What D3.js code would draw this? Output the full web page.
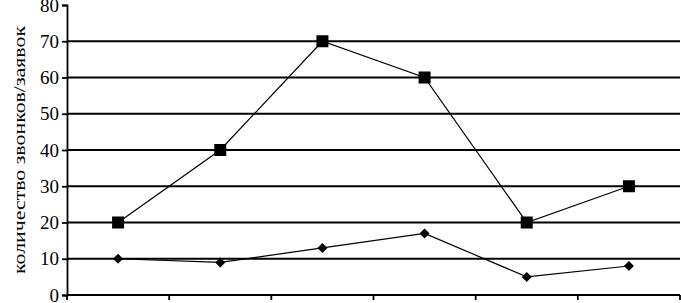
<!DOCTYPE html>
<html>
<head>
<meta charset="utf-8">
<script src="https://cdn.jsdelivr.net/npm/d3@7"></script>
<style>
  body { margin: 0; background: #fff; }
  svg text { font-family: "Liberation Serif", "DejaVu Serif", serif !important; fill: #000; }
</style>
</head>
<body>
<svg id="chart" width="681" height="303"></svg>
<script>
// categories (no labels shown on the x axis)
var categories = ["1", "2", "3", "4", "5", "6"];
var seriesSquares = [20, 40, 70, 60, 20, 30];
var seriesDiamonds = [10, 9, 13, 17, 5, 8];
var yTicks = [0, 10, 20, 30, 40, 50, 60, 70, 80];
var yLabel = "количество звонков/заявок";

var svg = d3.select("#chart");
var margin = {top: 5, right: 1, bottom: 8, left: 67},
  width = 681 - margin.left - margin.right,
  height = 303 - margin.top - margin.bottom;

var g = svg.append("g")
  .attr("transform", "translate(" + margin.left + "," + margin.top + ")");

var xScale = d3.scaleBand().domain(categories).range([0, width]);
var yScale = d3.scaleLinear().domain([0, 80]).range([height, 0]);

// gridlines (not at top)
g.selectAll(".grid")
  .data(yTicks.filter(function(d) { return d > 0 && d < 80; }))
  .enter().append("line")
  .attr("x1", 0).attr("x2", width)
  .attr("y1", function(d) { return yScale(d); })
  .attr("y2", function(d) { return yScale(d); })
  .attr("stroke", "#000").attr("stroke-width", 1.8);

// y axis
var yAxis = d3.axisLeft(yScale).tickValues(yTicks).tickSize(5).tickPadding(3);
var ya = g.append("g").call(yAxis);
ya.select(".domain").attr("stroke", "#000").attr("stroke-width", 1.8);
ya.selectAll(".tick line").attr("stroke", "#000").attr("stroke-width", 1.8);
ya.selectAll("text").style("font-size", "19px");

// x axis with ticks at category boundaries
var bounds = categories.map(function(c) { return xScale(c); }).concat([width]);
g.append("line")
  .attr("x1", 0).attr("x2", width)
  .attr("y1", height).attr("y2", height)
  .attr("stroke", "#000").attr("stroke-width", 1.8);
g.selectAll(".xtick")
  .data(bounds)
  .enter().append("line")
  .attr("x1", function(d) { return d; }).attr("x2", function(d) { return d; })
  .attr("y1", height).attr("y2", height + 5)
  .attr("stroke", "#000").attr("stroke-width", 1.8);

// y-axis label
svg.append("text")
  .attr("transform", "translate(25," + (margin.top + height / 2) + ") rotate(-90)")
  .attr("text-anchor", "middle")
  .attr("textLength", 248)
  .attr("lengthAdjust", "spacingAndGlyphs")
  .style("font-size", "17px")
  .text(yLabel);

var xMid = function(d, i) { return xScale(categories[i]) + xScale.bandwidth() / 2; };
var line = d3.line()
  .x(function(d, i) { return xMid(d, i); })
  .y(function(d) { return yScale(d); });

// squares series
g.append("path").datum(seriesSquares)
  .attr("d", line).attr("fill", "none").attr("stroke", "#000").attr("stroke-width", 1.2);
g.selectAll(".sq").data(seriesSquares).enter().append("rect")
  .attr("x", function(d, i) { return xMid(d, i) - 6; })
  .attr("y", function(d) { return yScale(d) - 6; })
  .attr("width", 12).attr("height", 12)
  .attr("fill", "#000");

// diamonds series
g.append("path").datum(seriesDiamonds)
  .attr("d", line).attr("fill", "none").attr("stroke", "#000").attr("stroke-width", 1.2);
g.selectAll(".dm").data(seriesDiamonds).enter().append("path")
  .attr("d", function(d, i) {
    var x = xMid(d, i), y = yScale(d), r = 5;
    return "M" + x + "," + (y - r) + "L" + (x + r) + "," + y + "L" + x + "," + (y + r) + "L" + (x - r) + "," + y + "Z";
  })
  .attr("fill", "#000");
</script>
</body>
</html>
